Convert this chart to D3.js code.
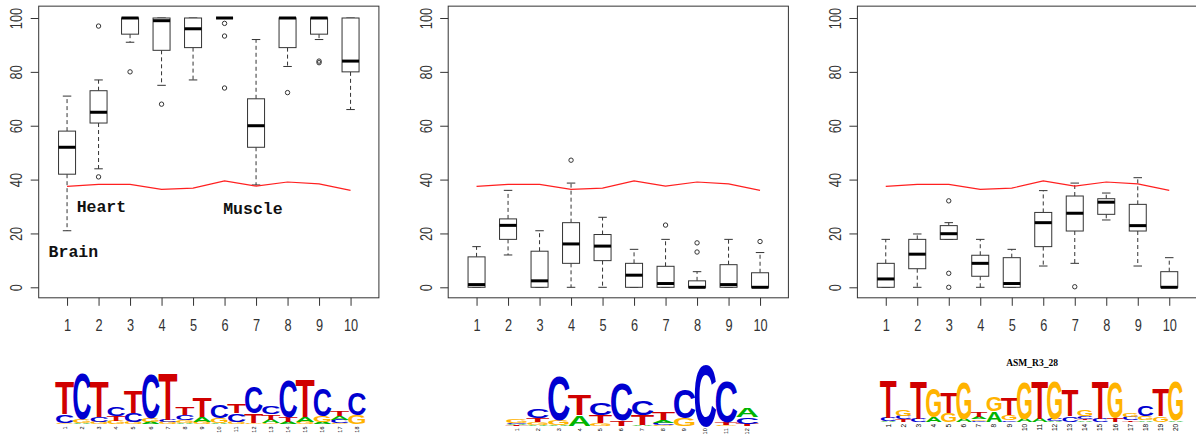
<!DOCTYPE html>
<html>
<head>
<meta charset="utf-8">
<script src="https://cdn.jsdelivr.net/npm/d3@7"></script>
<style>
  body { margin: 0; background: #fff; }
  svg { display: block; }
</style>
</head>
<body>
<script>
// categories on the x axis and the y tick values shared by the three panels
const categories = d3.range(1, 11)
const yTicks = [0, 20, 40, 60, 80, 100]

// red reference line, same in every panel
const threshold = [37.5, 38.2, 38.2, 36.4, 36.8, 39.5, 37.6, 39.1, 38.4, 36.0]

// box stats per category: [lower whisker, Q1, median, Q3, upper whisker]
const statsA = [
  [21, 42, 52, 58, 71], [44, 61, 65, 73, 77], [91, 94, 100, 100, 100],
  [75, 88, 99, 100, 100], [77, 89, 96, 100, 100], [100, 100, 100, 100, 100],
  [38, 52, 60, 70, 92], [82, 89, 100, 100, 100], [92, 94, 100, 100, 100],
  [66, 80, 84, 100, 100]
]
const outliersA = [[], [97, 41], [80], [68], [], [98, 93.3, 74], [], [72.3], [84, 83.4], []]

const statsB = [
  [0, 0, 1, 11.3, 15.1], [12, 17.8, 23, 25.4, 36], [0, 0, 2.4, 13.4, 21],
  [0, 8.9, 16.1, 24, 38.7], [0, 9.9, 15.3, 19.6, 26], [0, 0, 4.5, 8.9, 14.1],
  [0, 0, 1.4, 7.8, 17.8], [0, 0, 0, 2.4, 5.8], [0, 0, 1, 8.4, 17.8],
  [0, 0, 0, 5.4, 12.9]
]
const outliersB = [[], [], [], [47.2], [], [], [23.1], [16.5, 13.1], [], [17]]

const statsC = [
  [0, 0, 3.1, 8.9, 17.8], [0, 6.9, 12.3, 17.8, 19.8], [17.8, 17.8, 19.9, 22.9, 24],
  [0, 4.1, 8.9, 11.9, 17.8], [0, 0, 1.4, 11, 14.1], [7.9, 15.1, 24, 27.8, 35.9],
  [8.9, 20.9, 27.5, 33.9, 38.7], [25, 27.1, 31.6, 32.9, 35], [7.9, 20.9, 22.9, 30.8, 40.7],
  [0, 0, 0, 5.8, 11]
]
const outliersC = [[], [], [32.1, 5.2, 0], [], [], [], [0.2], [], [], []]

const tissues = ['Brain', 'Heart', 'Muscle']

// sequence logos under the panels, letter heights in bits
const logoA = [
  {T: 1.02, C: 0.26, G: 0.05}, {C: 1.45, G: 0.14, A: 0.03}, {T: 1.12, C: 0.15, G: 0.08},
  {C: 0.3, T: 0.15, G: 0.1}, {T: 0.72, C: 0.3, G: 0.06}, {C: 1.4, G: 0.12, A: 0.08},
  {T: 1.5, C: 0.08, G: 0.06}, {T: 0.24, C: 0.16, G: 0.08, A: 0.04}, {T: 0.6, A: 0.16, G: 0.06},
  {C: 0.4, G: 0.16, A: 0.04}, {T: 0.27, C: 0.26, G: 0.08}, {C: 0.82, T: 0.3, G: 0.04},
  {C: 0.26, T: 0.16, A: 0.12, G: 0.03}, {C: 1.15, T: 0.18, A: 0.06}, {T: 1.2, A: 0.18, G: 0.06},
  {C: 0.88, G: 0.2, A: 0.06}, {T: 0.16, C: 0.1, A: 0.1, G: 0.05}, {C: 0.72, G: 0.3}
]
const logoB = [
  {G: 0.1, C: 0.04, T: 0.03, A: 0.03}, {C: 0.28, T: 0.12, G: 0.09, A: 0.03},
  {C: 1.4, G: 0.16, A: 0.03}, {T: 0.68, A: 0.34}, {C: 0.36, T: 0.26, G: 0.08},
  {C: 1.15, T: 0.18}, {C: 0.47, T: 0.31, A: 0.04}, {T: 0.23, A: 0.08, C: 0.07, G: 0.03},
  {C: 0.89, G: 0.24}, {C: 1.95}, {C: 1.3, T: 0.07, G: 0.04}, {A: 0.29, C: 0.21, T: 0.07}
]
const logoC = [
  {T: 1.18, C: 0.1, A: 0.03}, {G: 0.21, C: 0.1, T: 0.07}, {T: 1.18, C: 0.1},
  {G: 0.89, A: 0.16}, {T: 0.64, G: 0.28}, {G: 1.15, A: 0.1},
  {T: 0.18, A: 0.08, G: 0.05, C: 0.03}, {G: 0.46, A: 0.34}, {T: 0.52, G: 0.16, C: 0.05},
  {G: 1.15, A: 0.1}, {T: 1.18, A: 0.1}, {G: 1.18, C: 0.06, A: 0.03},
  {T: 0.83, C: 0.18}, {G: 0.21, C: 0.07, A: 0.05, T: 0.05}, {T: 1.18, C: 0.1},
  {G: 1.12, T: 0.12}, {G: 0.12, C: 0.1, T: 0.05}, {C: 0.34, G: 0.13, A: 0.04},
  {T: 0.86, G: 0.18}, {G: 1.23, A: 0.05}
]
const logoTitles = ['', '', 'ASM_R3_28']

const letterColor = {A: '#00b400', C: '#0000d0', G: '#ffb300', T: '#d00000'}
const ink = '#333'

const svg = d3.select('body').append('svg')
  .attr('width', 1196)
  .attr('height', 438)

const y = d3.scaleLinear().domain([0, 100]).range([287.3, 18])

const panels = [
  {stats: statsA, outliers: outliersA, x0: 38.7},
  {stats: statsB, outliers: outliersB, x0: 448.2},
  {stats: statsC, outliers: outliersC, x0: 857.4}
]

panels.forEach((p, pi) => {
  const x = d3.scaleLinear().domain([0.1, 10.9]).range([p.x0, p.x0 + 340.2])
  const g = svg.append('g')

  // frame
  g.append('rect')
    .attr('x', x(0.1)).attr('y', y(104.4))
    .attr('width', x(10.9) - x(0.1)).attr('height', y(-3.9) - y(104.4))
    .attr('fill', 'none').attr('stroke', ink)

  // axes
  const xa = g.append('g')
    .attr('transform', 'translate(0,' + y(-3.9) + ')')
    .attr('color', ink)
    .call(d3.axisBottom(x).tickValues(categories).tickSize(8).tickPadding(13))
  xa.select('.domain').remove()
  xa.selectAll('text')
    .attr('font-family', 'Liberation Sans, Arial, sans-serif')
    .attr('font-size', 17)
    .attr('transform', 'scale(0.75,1)')

  const ya = g.append('g')
    .attr('transform', 'translate(' + x(0.1) + ',0)')
    .attr('color', ink)
    .call(d3.axisLeft(y).tickValues(yTicks).tickSize(8))
  ya.select('.domain').remove()
  ya.selectAll('text')
    .attr('font-family', 'Liberation Sans, Arial, sans-serif')
    .attr('font-size', 17)
    .attr('x', 0).attr('y', -16.5).attr('dy', null)
    .attr('text-anchor', 'middle')
    .attr('transform', 'rotate(-90) scale(0.75,1)')

  // boxplots
  const hw = 0.27 // half box width in category units
  p.stats.forEach((s, i) => {
    const c = categories[i]
    const [lo, q1, med, q3, hi] = s
    const b = g.append('g')
    b.append('line')
      .attr('x1', x(c)).attr('x2', x(c)).attr('y1', y(q3)).attr('y2', y(hi))
      .attr('stroke', ink).attr('stroke-dasharray', '4,3')
    b.append('line')
      .attr('x1', x(c)).attr('x2', x(c)).attr('y1', y(q1)).attr('y2', y(lo))
      .attr('stroke', ink).attr('stroke-dasharray', '4,3')
    ;[lo, hi].forEach(v => {
      b.append('line')
        .attr('x1', x(c - hw / 2)).attr('x2', x(c + hw / 2))
        .attr('y1', y(v)).attr('y2', y(v))
        .attr('stroke', ink)
    })
    b.append('rect')
      .attr('x', x(c - hw)).attr('width', x(c + hw) - x(c - hw))
      .attr('y', y(q3)).attr('height', y(q1) - y(q3))
      .attr('fill', '#fff').attr('stroke', ink)
    b.append('line')
      .attr('x1', x(c - hw)).attr('x2', x(c + hw))
      .attr('y1', y(med)).attr('y2', y(med))
      .attr('stroke', '#000').attr('stroke-width', 3)
    b.selectAll('circle').data(p.outliers[i]).join('circle')
      .attr('cx', x(c)).attr('cy', d => y(d)).attr('r', 2.2)
      .attr('fill', 'none').attr('stroke', ink)
  })

  // red threshold line
  g.append('path')
    .datum(threshold)
    .attr('d', d3.line().x((d, i) => x(categories[i])).y(d => y(d)))
    .attr('fill', 'none').attr('stroke', '#ff2020').attr('stroke-width', 1.2)

  // tissue labels only in first panel
  if (pi === 0) {
    const at = [[1.2, 13.2], [2.09, 29.7], [6.9, 28.9]]
    g.selectAll('.tissue').data(tissues).join('text')
      .attr('class', 'tissue')
      .attr('x', (d, i) => x(at[i][0]))
      .attr('y', (d, i) => y(at[i][1]) + 5)
      .attr('text-anchor', 'middle')
      .attr('font-family', 'Liberation Mono, Courier New, monospace')
      .attr('font-weight', 'bold')
      .attr('font-size', 16.5)
      .attr('fill', '#111')
      .text(d => d)
  }
})

// sequence logos
const bits = d3.scaleLinear().domain([0, 2]).range([0, 64])
const logos = [
  {data: logoA, start: 64.7, step: 17.18, base: 424.3, labTop: 426.5, labSize: 5.5},
  {data: logoB, start: 516.7, step: 20.96, base: 426, labTop: 428.3, labSize: 5.5},
  {data: logoC, start: 888.3, step: 15.13, base: 421.7, labTop: 423.8, labSize: 6.5}
]

logos.forEach((L, li) => {
  const n = L.data.length
  const xb = d3.scaleBand()
    .domain(d3.range(1, n + 1))
    .range([L.start - L.step / 2, L.start + L.step * (n - 0.5)])
  const g = svg.append('g')
  const bw = xb.bandwidth()

  L.data.forEach((col, i) => {
    const entries = Object.entries(col).sort((a, b) => a[1] - b[1])
    let yb = L.base
    entries.forEach(([ch, v]) => {
      const h = bits(v)
      // stretch the advance a little past the band so the ink fills it
      g.append('text')
        .attr('transform', 'translate(' + (xb(i + 1) - bw * 0.06) + ',' + yb + ') scale(1,' + (h / 71.6) + ')')
        .attr('font-family', 'Liberation Sans, Arial, sans-serif')
        .attr('font-weight', 'bold')
        .attr('font-size', 100)
        .attr('textLength', bw * 1.12)
        .attr('lengthAdjust', 'spacingAndGlyphs')
        .attr('fill', letterColor[ch])
        .text(ch)
      yb -= h
    })
  })

  // position numbers, rotated
  g.selectAll('.pos').data(d3.range(1, n + 1)).join('text')
    .attr('class', 'pos')
    .attr('transform', d => 'translate(' + (xb(d) + bw / 2) + ',' + L.labTop + ') rotate(-90)')
    .attr('text-anchor', 'end')
    .attr('dy', '0.35em')
    .attr('font-family', 'Liberation Sans, Arial, sans-serif')
    .attr('font-size', L.labSize)
    .attr('fill', '#000')
    .text(d => d)

  if (logoTitles[li]) {
    g.append('text')
      .attr('x', (xb.range()[0] + xb.range()[1]) / 2)
      .attr('y', 366)
      .attr('text-anchor', 'middle')
      .attr('font-family', 'Liberation Serif, Times New Roman, serif')
      .attr('font-weight', 'bold')
      .attr('font-size', 9.5)
      .text(logoTitles[li])
  }
})
</script>
</body>
</html>
